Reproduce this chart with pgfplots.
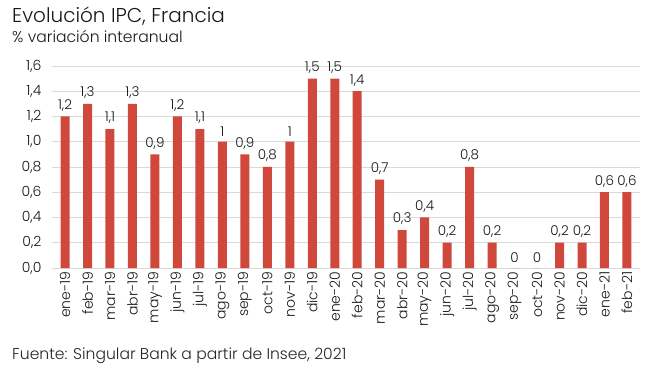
\documentclass[border=0pt]{standalone}
\usepackage{pgfplots}
\pgfplotsset{compat=1.18}
\usepackage{fontspec}
\setmainfont{Poppins Light}
\definecolor{barred}{HTML}{D0473B}
\definecolor{gridgray}{HTML}{D9D9D9}
\begin{document}
\begin{tikzpicture}
\path[use as bounding box] (0,0) rectangle (650bp,367bp);
\node[anchor=base west,inner sep=0pt,font=\fontsize{20bp}{22bp}\selectfont,text=black!90] at (12bp,344bp) {Evolución IPC, Francia};
\node[anchor=base west,inner sep=0pt,font=\fontsize{15.6bp}{17bp}\selectfont,text=black!90] at (12bp,324bp) {\% variación interanual};
\node[anchor=base west,inner sep=0pt,font=\fontsize{15.6bp}{17bp}\selectfont,text=black!85] at (12bp,8bp) {Fuente: Singular Bank a partir de Insee, 2021};
\begin{axis}[
  at={(52bp,99bp)}, anchor=south west,
  scale only axis, width=588bp, height=202bp,
  xmin=-0.58, xmax=25.58, ymin=0, ymax=1.6,
  ytick={0,0.2,...,1.6},
  xtick=data,
  xticklabels={ene-19,feb-19,mar-19,abr-19,may-19,jun-19,jul-19,ago-19,sep-19,oct-19,nov-19,dic-19,ene-20,feb-20,mar-20,abr-20,may-20,jun-20,jul-20,ago-20,sep-20,oct-20,nov-20,dic-20,ene-21,feb-21},
  x tick label style={rotate=90,anchor=east,font=\fontsize{14bp}{16bp}\selectfont,text=black!90},
  y tick label style={font=\fontsize{14bp}{16bp}\selectfont,text=black!90,xshift=-7bp},
  /pgf/number format/assume math mode=true,
  yticklabel={\pgfmathprintnumber[fixed,fixed zerofill,precision=1,use comma]{\tick}},
  axis line style={draw=none},
  major tick length=0pt,
  ymajorgrids, grid style={gridgray,line width=0.8pt},
  ybar, bar width=9bp,
  nodes near coords,
  every node near coord/.append style={font=\fontsize{13.5bp}{15bp}\selectfont,text=black!90,/pgf/number format/use comma,inner sep=2bp,yshift=3bp},
  point meta=explicit,
  clip=false,
]
\addplot[fill=barred,draw=none] table[meta index=1,y index=1] {
x y
0 1.2
1 1.3
2 1.1
3 1.3
4 0.9
5 1.2
6 1.1
7 1
8 0.9
9 0.8
10 1
11 1.5
12 1.5
13 1.4
14 0.7
15 0.3
16 0.4
17 0.2
18 0.8
19 0.2
20 0
21 0
22 0.2
23 0.2
24 0.6
25 0.6
};
\end{axis}
\end{tikzpicture}
\end{document}
